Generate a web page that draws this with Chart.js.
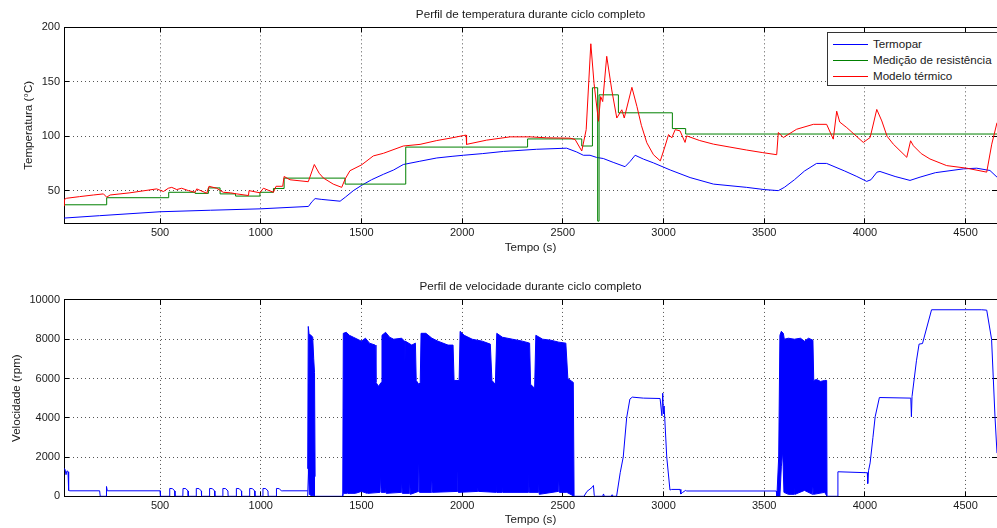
<!DOCTYPE html>
<html>
<head>
<meta charset="utf-8">
<script src="https://cdn.jsdelivr.net/npm/chart.js@4.4.0/dist/chart.umd.min.js"></script>
<style>
  html, body { margin: 0; padding: 0; background: #fff; }
  #wrap { position: relative; width: 997px; height: 528px; overflow: hidden; }
  .plot { position: absolute; left: 0; }
  #legenda { position: absolute; left: 827px; top: 32px; width: 172px; height: 54px; border: 1px solid #333;
             background: #fff; box-sizing: border-box; font: 11.6px "Liberation Sans", Arial, sans-serif; color: #1a1a1a; }
  .item { position: absolute; left: 0; height: 14px; line-height: 14px; white-space: nowrap; }
  .linha { position: absolute; left: 5px; top: 7px; width: 35px; height: 1px; }
  .txt { position: absolute; left: 45px; top: 0; }
</style>
</head>
<body>
<div id="wrap">
  <div class="plot" style="top:0"><canvas id="temp" width="997" height="260"></canvas></div>
  <div class="plot" style="top:270px"><canvas id="vel" width="997" height="258"></canvas></div>
  <div id="legenda">
    <div class="item" style="top:4px"><span class="linha" style="background:#0000ff"></span><span class="txt">Termopar</span></div>
    <div class="item" style="top:20px"><span class="linha" style="background:#008000"></span><span class="txt">Medição de resistência</span></div>
    <div class="item" style="top:36px"><span class="linha" style="background:#ff0000"></span><span class="txt">Modelo térmico</span></div>
  </div>
</div>
<script>
// eixos
const ticksTempo = [500, 1000, 1500, 2000, 2500, 3000, 3500, 4000, 4500];
const ticksTemperatura = [50, 100, 150, 200];
const ticksVelocidade = [0, 2000, 4000, 6000, 8000, 10000];
const tempoMin = 23, tempoMax = 4656;

// temperatura - termopar
const termoparT = [23, 200, 500, 750, 1000, 1237, 1255, 1270, 1300, 1394,
  1420, 1460, 1502, 1550, 1609, 1660, 1708, 1790, 1874, 1950,
  2006, 2100, 2205, 2370, 2519, 2569, 2602, 2635, 2668, 2701,
  2750, 2809, 2835, 2859, 2900, 2950, 3033, 3132, 3248, 3413,
  3500, 3570, 3600, 3650, 3700, 3760, 3810, 3900, 3960, 4009,
  4030, 4060, 4075, 4150, 4224, 4274, 4350, 4489, 4555, 4621,
  4656];
const termoparV = [24.8, 27, 30.6, 32, 33.3, 35.5, 40, 42.7, 42, 40.3,
  44, 50, 55, 60, 65, 69, 74, 77, 80, 81.5,
  82.5, 84, 86, 88, 89, 85.5, 82.5, 82.5, 80.5, 79.5,
  76, 72, 77, 82.5, 79, 75.5, 69, 62, 56, 53,
  51, 50, 53, 60, 68, 75, 75, 68, 63, 58.5,
  60, 67, 67.6, 63, 59.4, 62.4, 66.5, 70, 70.6, 68.5,
  62.4];

// temperatura - medição de resistência (degraus)
const medicaoT = [23, 235, 543, 674, 740, 798, 875, 996, 1063, 1116,
  1419, 1720, 2325, 2594, 2647, 2673, 2680, 2776, 3044, 3110,
  4656];
const medicaoV = [37, 43.5, 48.5, 47.5, 52.5, 47, 45, 48.5, 52, 61.5,
  56, 90, 97.5, 91, 144.5, 22, 138, 121.5, 107, 102,
  102];

// temperatura - modelo térmico
const modeloT = [23, 25, 36, 100, 169, 219, 235, 252, 350, 483,
  517, 541, 558, 583, 607, 641, 674, 682, 732, 743,
  781, 814, 850, 881, 939, 942, 996, 1013, 1063, 1076,
  1109, 1116, 1145, 1236, 1266, 1290, 1311, 1360, 1402, 1419,
  1443, 1501, 1559, 1609, 1708, 1791, 1874, 1950, 2006, 2020,
  2022, 2122, 2238, 2337, 2420, 2536, 2561, 2594, 2616, 2639,
  2655, 2677, 2688, 2698, 2718, 2743, 2768, 2793, 2805, 2843,
  2868, 2890, 2917, 2950, 2984, 3008, 3025, 3041, 3058, 3082,
  3107, 3115, 3180, 3248, 3330, 3413, 3490, 3562, 3570, 3595,
  3661, 3744, 3810, 3843, 3860, 3875, 3910, 3992, 4026, 4059,
  4084, 4110, 4141, 4208, 4227, 4241, 4280, 4323, 4406, 4506,
  4605, 4630, 4656];
const modeloV = [36, 42, 43, 44.5, 46, 47, 44, 46, 48, 51.6,
  49.2, 52.2, 53, 51, 52.2, 50, 48.5, 51.6, 47.6, 54,
  52.2, 48.5, 48, 47, 45.5, 50, 48, 52.2, 48.5, 54,
  54, 63, 60, 58.2, 74, 66, 61.6, 56, 53, 60.7,
  68.3, 73.7, 81.9, 84.3, 91, 92.5, 96, 98.5, 100.6, 101,
  92.5, 96.4, 99.4, 99.4, 98.5, 98.2, 97, 86.4, 106, 184.9,
  148.5, 113.7, 136.4, 131.8, 173.4, 142.5, 116.7, 124.3, 116.7, 144.9,
  127.3, 110, 94, 83, 77.3, 91, 101.5, 98.5, 106, 104.9,
  94.3, 100.3, 96, 92.7, 90, 87.3, 85, 83, 103.4, 98.8,
  106.4, 110.9, 110.9, 97.3, 123, 113, 107.9, 94.3, 98.8, 124.6,
  114, 100, 92.7, 80.6, 95.8, 91.2, 84, 79.1, 73, 70.6,
  67, 92.7, 112.4];

// velocidade - traço fino (null = trecho coberto pelos blocos)
const velT = [23, 28, 33, 38, 43, 46, 52, 200, 203, 232,
  234, 238, 500, 502,
  547, 548, 562, 573, 574,
  613, 614, 628, 639, 640,
  679, 680, 694, 705, 706,
  745, 746, 760, 771, 772,
  811, 812, 826, 837, 838,
  878, 879, 893, 904, 905,
  944, 945, 959, 970, 971,
  1010, 1011, 1025, 1036, 1037,
  1077, 1078, 1092, 1103, 1110, 1233, 1250,
  1270, 1407, 1500,
  2556, 2605, 2620, 2645, 2652, 2656, 2660, 2698, 2702, 2706,
  2740, 2745, 2750, 2767, 2785, 2800, 2817, 2833, 2845, 2900,
  2983, 2992, 2996, 3000, 3003, 3016, 3032, 3040, 3082, 3086,
  3095, 3110, 3115, 3560, 3563, 3700,
  3812, 3862, 3866, 4012, 4014, 4018, 4026, 4040, 4051, 4072,
  4228, 4231, 4234, 4256, 4269, 4286, 4331, 4580, 4605, 4629,
  4646, 4656];
const velV = [1400, 1380, 1100, 1300, 1250, 300, 280, 280, 0, 0,
  500, 280, 280, 0,
  0, 400, 390, 270, 0,
  0, 400, 390, 270, 0,
  0, 400, 390, 270, 0,
  0, 400, 390, 270, 0,
  0, 400, 390, 270, 0,
  0, 400, 390, 270, 0,
  0, 400, 390, 270, 0,
  0, 400, 390, 270, 0,
  0, 400, 390, 270, 280, 280, null,
  0, 0, null,
  0, 0, 250, 450, 550, 50, 0, 0, 120, 0,
  0, 80, 0, 0, 1200, 2000, 4000, 4950, 5050, 5000,
  4980, 4100, 5250, 4200, 4600, 2000, 320, 350, 350, 120,
  200, 300, 270, 270, 0, null,
  0, 0, 1250, 1200, 650, 1300, 1700, 3000, 4050, 5030,
  5000, 4050, 5080, 6900, 7750, 7780, 9500, 9500, 9480, 8000,
  4050, 2200];

// velocidade - blocos de oscilação rápida (envoltória superior / inferior)
const bloco1SupT = [1233, 1236, 1240, 1250, 1258, 1263, 1267, 1270];
const bloco1SupV = [1400, 8650, 8250, 8200, 8100, 7000, 6300, 1000];
const bloco1InfT = [1233, 1238, 1241, 1245, 1270];
const bloco1InfV = [0, 1400, 100, 60, 0];

const bloco2SupT = [1407, 1410, 1425, 1440, 1460, 1480, 1500, 1520, 1540, 1568,
  1572, 1585, 1598, 1602, 1620, 1640, 1660, 1700, 1714, 1716,
  1718, 1750, 1768, 1772, 1785, 1792, 1796, 1820, 1850, 1880,
  1930, 1955, 1960, 1985, 1990, 2010, 2050, 2100, 2140, 2148,
  2165, 2172, 2200, 2250, 2300, 2335, 2340, 2360, 2366, 2400,
  2440, 2480, 2515, 2525, 2552, 2556];
const bloco2SupV = [0, 8300, 8350, 8200, 8100, 8000, 7900, 8050, 7800, 7700,
  5800, 5600, 5800, 8200, 8350, 8100, 8000, 8050, 7900, 6800,
  7900, 7700, 7800, 5900, 5700, 5800, 8300, 8300, 8050, 7900,
  7700, 7700, 5900, 5900, 8400, 8200, 8000, 7900, 7750, 5900,
  5700, 8300, 8100, 8000, 7900, 7800, 5700, 5500, 8200, 8000,
  7950, 7850, 7800, 6000, 5800, 0];
const bloco2InfT = [1407, 1410, 1428, 1430, 1433, 1470, 1500, 1528, 1530, 1533,
  1592, 1595, 1598, 1618, 1620, 1623, 1698, 1700, 1703, 1738,
  1740, 1743, 1783, 1785, 1788, 1848, 1850, 1853, 1978, 1980,
  1983, 2078, 2080, 2083, 2168, 2170, 2173, 2198, 2200, 2203,
  2328, 2330, 2333, 2378, 2380, 2383, 2478, 2480, 2483, 2520,
  2556];
const bloco2InfV = [0, 150, 150, 900, 150, 150, 250, 150, 600, 150,
  200, 1200, 200, 200, 500, 150, 200, 700, 150, 150,
  700, 100, 250, 1700, 200, 200, 800, 200, 250, 1700,
  200, 250, 800, 250, 200, 1000, 200, 200, 600, 200,
  200, 1300, 200, 200, 700, 100, 250, 800, 200, 200,
  0];

const bloco3SupT = [3563, 3572, 3578, 3585, 3595, 3600, 3620, 3650, 3680, 3700,
  3720, 3742, 3746, 3760, 3780, 3800, 3810, 3812];
const bloco3SupV = [0, 2000, 8200, 8400, 8300, 8000, 8050, 8000, 8050, 7900,
  8050, 7950, 5900, 5950, 5850, 5900, 5900, 0];
const bloco3InfT = [3563, 3578, 3585, 3592, 3598, 3620, 3648, 3650, 3653, 3700,
  3740, 3742, 3745, 3800, 3812];
const bloco3InfV = [0, 0, 1500, 2300, 200, 100, 100, 600, 100, 300,
  100, 500, 100, 200, 0];

Chart.defaults.font.family = '"Liberation Sans", Arial, sans-serif';
Chart.defaults.font.size = 11;
Chart.defaults.color = '#1a1a1a';

const pontos = (t, v) => t.map((x, i) => ({ x: x, y: v[i] }));
const azul = '#0000ff', verde = '#008000', vermelho = '#ff0000';

const grade = { color: '#555', lineWidth: 1, drawTicks: true, tickLength: -5, tickColor: '#000', tickWidth: 1 };
const borda = { display: true, color: '#000', width: 1, dash: [1, 3] };
const fixarTicks = lista => scale => { scale.ticks = lista.map(v => ({ value: v })); };

function linha(label, t, v, cor, extra) {
  return Object.assign({ label: label, data: pontos(t, v), borderColor: cor, backgroundColor: cor,
    borderWidth: 1, pointRadius: 0, tension: 0, fill: false, spanGaps: false }, extra || {});
}

function escalas(yMin, yMax, yTicks, yTitulo, yTitPad, xAltura, xTickPad, xTitPad) {
  return {
    x: {
      type: 'linear', position: 'bottom', min: tempoMin, max: tempoMax,
      afterBuildTicks: fixarTicks(ticksTempo),
      afterFit: s => { s.height = xAltura; },
      ticks: { padding: xTickPad, maxRotation: 0, autoSkip: false, callback: v => String(v) },
      grid: grade, border: borda,
      title: { display: true, text: 'Tempo (s)', font: { size: 11.6 }, padding: { top: 0, bottom: xTitPad } }
    },
    x2: {
      type: 'linear', position: 'top', min: tempoMin, max: tempoMax,
      afterBuildTicks: fixarTicks(ticksTempo),
      afterFit: s => { s.height = 0; },
      ticks: { display: false },
      grid: Object.assign({}, grade, { drawOnChartArea: false }),
      border: { display: true, color: '#000', width: 1 }
    },
    y: {
      type: 'linear', position: 'left', min: yMin, max: yMax,
      afterBuildTicks: fixarTicks(yTicks),
      afterFit: s => { s.width = 64; },
      ticks: { padding: 9, callback: v => String(v) },
      grid: grade, border: borda,
      title: { display: true, text: yTitulo, font: { size: 11.6 }, padding: { top: yTitPad, bottom: 0 } }
    },
    y2: {
      type: 'linear', position: 'right', min: yMin, max: yMax,
      afterBuildTicks: fixarTicks(yTicks),
      afterFit: s => { s.width = 0; },
      ticks: { display: false },
      grid: Object.assign({}, grade, { drawOnChartArea: false }),
      border: { display: true, color: '#000', width: 1 }
    }
  };
}

function plugins(titulo, padTop, padBottom) {
  return {
    legend: { display: false },
    tooltip: { enabled: false },
    title: { display: true, text: titulo, fullSize: false, color: '#1a1a1a',
      font: { size: 11.7, weight: 'normal' }, padding: { top: padTop, bottom: padBottom } }
  };
}

new Chart(document.getElementById('temp'), {
  type: 'line',
  data: {
    datasets: [
      linha('Termopar', termoparT, termoparV, azul, { order: 3 }),
      linha('Medição de resistência', medicaoT, medicaoV, verde, { order: 2, stepped: 'before' }),
      linha('Modelo térmico', modeloT, modeloV, vermelho, { order: 1 })
    ]
  },
  options: {
    responsive: false, devicePixelRatio: 1, animation: false, events: [],
    layout: { padding: 0 },
    plugins: plugins('Perfil de temperatura durante ciclo completo', 7.3, 6.0),
    scales: escalas(20, 200, ticksTemperatura, 'Temperatura (°C)', 22.2, 36.7, 8.4, 5.2)
  }
});

new Chart(document.getElementById('vel'), {
  type: 'line',
  data: {
    datasets: [
      linha('Velocidade', velT, velV, azul),
      linha('bloco1', bloco1SupT, bloco1SupV, azul, { fill: '+1' }),
      linha('bloco1i', bloco1InfT, bloco1InfV, azul),
      linha('bloco2', bloco2SupT, bloco2SupV, azul, { fill: '+1' }),
      linha('bloco2i', bloco2InfT, bloco2InfV, azul),
      linha('bloco3', bloco3SupT, bloco3SupV, azul, { fill: '+1' }),
      linha('bloco3i', bloco3InfT, bloco3InfV, azul)
    ]
  },
  options: {
    responsive: false, devicePixelRatio: 1, animation: false, events: [],
    layout: { padding: 0 },
    plugins: plugins('Perfil de velocidade durante ciclo completo', 10.0, 5.9),
    scales: escalas(0, 10000, ticksVelocidade, 'Velocidade (rpm)', 9.9, 31.7, 8.1, 1.2)
  }
});
</script>
</body>
</html>
